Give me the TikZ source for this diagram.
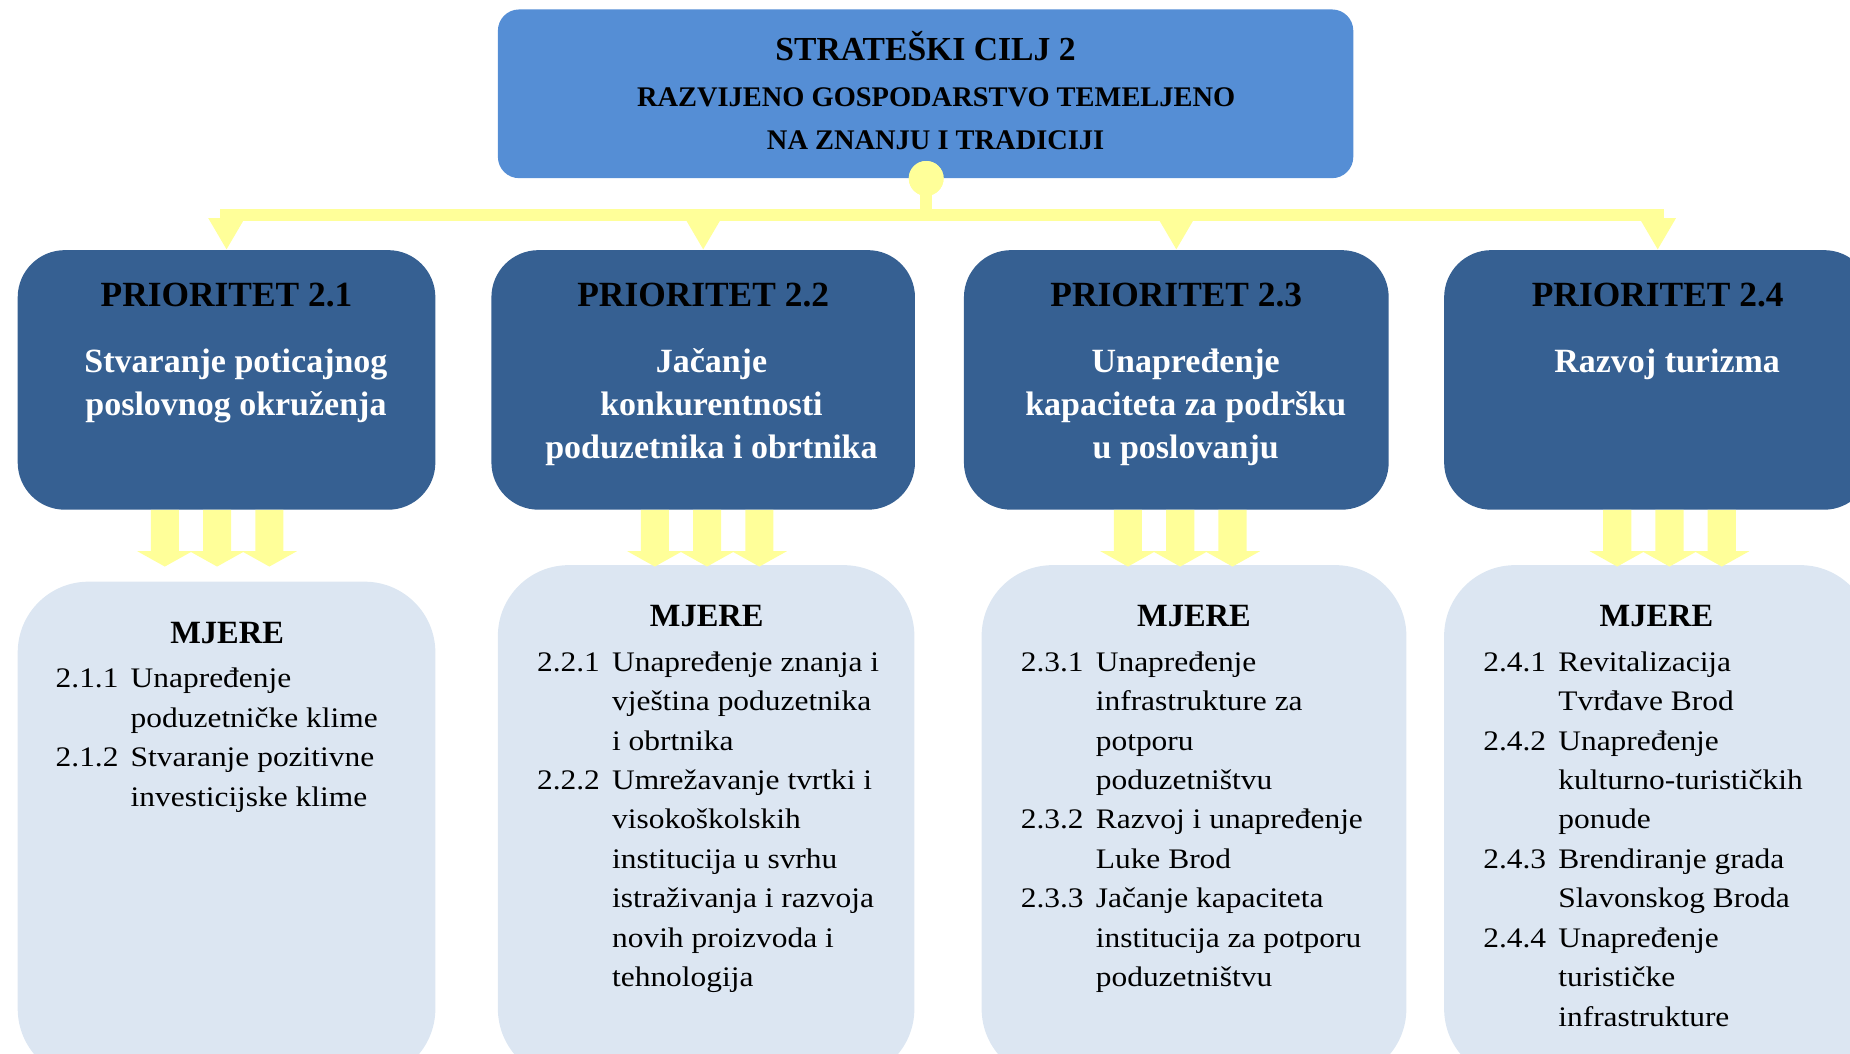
\documentclass[tikz,border=0pt]{standalone}
\usepackage{fontspec}
\setmainfont{Liberation Serif}
\newfontfamily\itemfont{Liberation Serif}[FakeStretch=1.11]
\usetikzlibrary{arrows.meta}
\definecolor{goalblue}{RGB}{85,142,213}
\definecolor{prioblue}{RGB}{54,96,146}
\definecolor{mjerefill}{RGB}{220,230,242}
\definecolor{yel}{RGB}{255,255,153}
\tikzset{
  fatarrow/.pic={\fill[yel] (-11.9,0) -- (-11.9,35) -- (-23.3,35) -- (0,48) -- (23.3,35) -- (11.9,35) -- (11.9,0) -- cycle;}
}
\begin{document}
\begin{tikzpicture}[x=1pt,y=-1pt,
  goalbox/.style={fill=goalblue, rounded corners=18pt, minimum width=725pt, minimum height=143pt, inner sep=0pt},
  priobox/.style={fill=prioblue, rounded corners=40pt, minimum height=220pt, inner sep=0pt},
  mjerebox/.style={fill=mjerefill, rounded corners=60pt, inner sep=0pt},
  goaltitle/.style={anchor=base, inner sep=0pt, font=\bfseries\fontsize{28.5}{30}\selectfont},
  goalline/.style={anchor=base, inner sep=0pt, font=\bfseries\fontsize{24.1}{26}\selectfont},
  priotitle/.style={anchor=base, inner sep=0pt, font=\bfseries\fontsize{30}{32}\selectfont},
  priosub/.style={anchor=base, inner sep=0pt, text=white, font=\bfseries\fontsize{28.8}{36.5}\selectfont},
  mjeretitle/.style={anchor=base, inner sep=0pt, font=\bfseries\fontsize{27.5}{29}\selectfont},
  items/.style={anchor=base west, inner sep=0pt, font=\itemfont\fontsize{24}{33.4}\selectfont},
  conn/.style={draw=yel, line width=10.5pt, -{Triangle[length=27pt,width=29pt]}},
  hubdot/.style={circle, fill=yel, minimum size=29.5pt, inner sep=0pt}
]
\useasboundingbox (0,0) rectangle (1568,892.5);
\clip (0,0) rectangle (1568,892.5);

% boxes
\node[goalbox] (goal) at (784.5,79.5) {};
\node[priobox, minimum width=354pt] (p1) at (192,322) {};
\node[priobox, minimum width=359pt] (p2) at (596,322) {};
\node[priobox, minimum width=360pt] (p3) at (997,322) {};
\node[priobox, minimum width=362pt] (p4) at (1405,322) {};
\node[mjerebox, minimum width=354pt, minimum height=422pt] (m1) at (192,704) {};
\node[mjerebox, minimum width=353pt, minimum height=436pt] (m2) at (598.5,697) {};
\node[mjerebox, minimum width=360pt, minimum height=436pt] (m3) at (1012,697) {};
\node[mjerebox, minimum width=362pt, minimum height=436pt] (m4) at (1405,697) {};

% goal text
\node[goaltitle] (gt1) at (784.5,51.5) {STRATEŠKI CILJ 2};
\node[goalline] (gt2) at (793.5,90) {RAZVIJENO GOSPODARSTVO TEMELJENO};
\node[goalline] (gt3) at (793,127) {NA ZNANJU I TRADICIJI};

% priority titles
\node[priotitle] (pt1) at (192,260) {PRIORITET 2.1};
\node[priotitle] (pt2) at (596,260) {PRIORITET 2.2};
\node[priotitle] (pt3) at (997,260) {PRIORITET 2.3};
\node[priotitle] (pt4) at (1405,260) {PRIORITET 2.4};
\node[priosub] (ps1) at (200,316) {\begin{tabular}[t]{@{}c@{}}Stvaranje poticajnog\\poslovnog okruženja\end{tabular}};
\node[priosub] (ps2) at (603,316) {\begin{tabular}[t]{@{}c@{}}Jačanje\\konkurentnosti\\poduzetnika i obrtnika\end{tabular}};
\node[priosub] (ps3) at (1005,316) {\begin{tabular}[t]{@{}c@{}}Unapređenje\\kapaciteta za podršku\\u poslovanju\end{tabular}};
\node[priosub] (ps4) at (1413,316) {\begin{tabular}[t]{@{}c@{}}Razvoj turizma\end{tabular}};

% mjere titles
\node[mjeretitle] (mt1) at (192.5,545) {MJERE};
\node[mjeretitle] (mt2) at (599,531) {MJERE};
\node[mjeretitle] (mt3) at (1012,531) {MJERE};
\node[mjeretitle] (mt4) at (1404,531) {MJERE};

% mjere items
\node[items] (mi1) at (47,583) {\begin{tabular}[t]{@{}p{63.6pt}@{}l@{}}
2.1.1 & Unapređenje\\
 & poduzetničke klime\\
2.1.2 & Stvaranje pozitivne\\
 & investicijske klime
\end{tabular}};
\node[items] (mi2) at (455,569) {\begin{tabular}[t]{@{}p{63.6pt}@{}l@{}}
2.2.1 & Unapređenje znanja i\\
 & vještina poduzetnika\\
 & i obrtnika\\
2.2.2 & Umrežavanje tvrtki i\\
 & visokoškolskih\\
 & institucija u svrhu\\
 & istraživanja i razvoja\\
 & novih proizvoda i\\
 & tehnologija
\end{tabular}};
\node[items] (mi3) at (865,569) {\begin{tabular}[t]{@{}p{63.6pt}@{}l@{}}
2.3.1 & Unapređenje\\
 & infrastrukture za\\
 & potporu\\
 & poduzetništvu\\
2.3.2 & Razvoj i unapređenje\\
 & Luke Brod\\
2.3.3 & Jačanje kapaciteta\\
 & institucija za potporu\\
 & poduzetništvu
\end{tabular}};
\node[items] (mi4) at (1257,569) {\begin{tabular}[t]{@{}p{63.6pt}@{}l@{}}
2.4.1 & Revitalizacija\\
 & Tvrđave Brod\\
2.4.2 & Unapređenje\\
 & kulturno-turističkih\\
 & ponude\\
2.4.3 & Brendiranje grada\\
 & Slavonskog Broda\\
2.4.4 & Unapređenje\\
 & turističke\\
 & infrastrukture
\end{tabular}};

% triple arrows priority -> mjere
\foreach \b/\c in {1/-8, 2/3.3, 3/3.3, 4/10}{
  \pic at ([xshift=\c pt-44.3pt]p\b.south) {fatarrow};
  \pic at ([xshift=\c pt]p\b.south) {fatarrow};
  \pic at ([xshift=\c pt+44.3pt]p\b.south) {fatarrow};
}

% connectors goal -> priorities
\node[hubdot] (hub) at ([xshift=0.5pt]goal.south) {};
\draw[conn] (hub.center) -- ++(0,31) -| (p1.north);
\draw[conn] (hub.center) -- ++(0,31) -| (p2.north);
\draw[conn] (hub.center) -- ++(0,31) -| (p3.north);
\draw[conn] (hub.center) -- ++(0,31) -| (p4.north);
\node[hubdot] (hubtop) at (hub.center) {};
\end{tikzpicture}
\end{document}
